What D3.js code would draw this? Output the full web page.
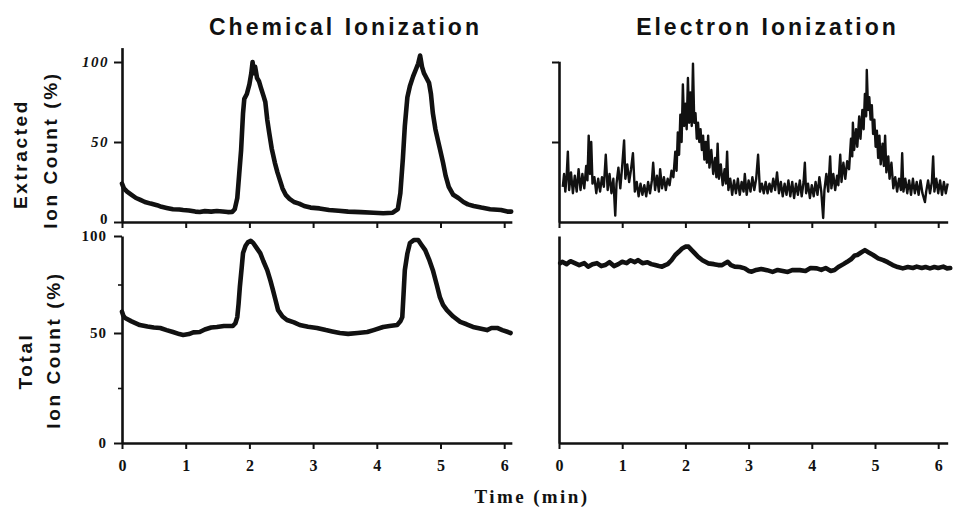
<!DOCTYPE html>
<html><head><meta charset="utf-8">
<script src="https://cdn.jsdelivr.net/npm/d3@7"></script>
<style>body{margin:0;background:#fff}</style>
</head><body>
<script>
// ---------- data ----------
const titles = ["Chemical Ionization", "Electron Ionization"];
const yLabelTop = ["Extracted", "Ion Count (%)"];
const yLabelBottom = ["Total", "Ion Count (%)"];
const xTitle = "Time (min)";
const xTicks = [0, 1, 2, 3, 4, 5, 6];
const yTicksTop = [0, 50, 100];
const yTicksBottom = [0, 50, 100];
const yMinorBottom = [25, 75];

// Chemical ionization, extracted ion count (%) : [time min, value]
const ciExtracted = [
 [0.00,24],[0.03,21],[0.08,19],[0.15,17],[0.22,15],[0.28,14],[0.36,12.5],[0.45,11.5],[0.55,10.5],[0.62,9.5],
 [0.70,8.8],[0.80,8],[0.90,7.8],[0.96,7.5],[1.05,7.2],[1.15,6.5],[1.22,6.3],[1.30,6.8],[1.40,6.5],[1.49,6.9],
 [1.58,6.6],[1.66,6.2],[1.73,6.3],[1.77,8],[1.81,15],[1.84,30],[1.87,45],[1.90,68],[1.92,77],[1.96,80],
 [2.00,86],[2.03,93],[2.05,100],[2.07,93],[2.09,97],[2.12,90],[2.15,88],[2.18,84],[2.22,79],[2.25,75],
 [2.28,64],[2.31,56],[2.35,46],[2.40,37],[2.44,31],[2.48,26],[2.52,21],[2.57,17],[2.63,14.5],[2.70,12.5],
 [2.78,11.5],[2.86,10],[2.96,9],[3.10,8.5],[3.25,7.5],[3.40,7],[3.55,6.5],[3.75,6.2],[3.95,5.8],[4.10,5.5],
 [4.25,5.8],[4.33,8],[4.37,18],[4.41,40],[4.44,60],[4.48,78],[4.52,85],[4.57,91],[4.61,95],[4.65,99],
 [4.68,104],[4.71,97],[4.74,93],[4.78,90],[4.82,87],[4.85,80],[4.88,68],[4.92,58],[4.96,51],[5.00,44],
 [5.04,37],[5.08,29],[5.13,22],[5.20,17],[5.28,15],[5.36,12.5],[5.43,11],[5.52,10],[5.64,9],[5.78,8],
 [5.95,7.5],[6.05,6.5],[6.11,6.5]
];

// Chemical ionization, total ion count (%)
const ciTotal = [
 [0.00,61],[0.02,59],[0.05,57.7],[0.15,56],[0.28,54.1],[0.40,53.3],[0.50,52.8],[0.60,52.6],[0.70,51.5],[0.80,50.5],
 [0.90,49.5],[0.96,49.1],[1.05,49.5],[1.12,50.3],[1.22,50.5],[1.30,51.8],[1.40,52.8],[1.49,53.1],[1.60,53.6],[1.74,53.6],
 [1.78,55],[1.81,58.2],[1.83,65],[1.85,73.7],[1.88,84],[1.90,91.2],[1.94,95],[1.98,96.9],[2.02,97.5],[2.06,96.4],
 [2.11,94],[2.17,91.2],[2.22,87],[2.28,82.4],[2.33,77],[2.37,72.1],[2.41,67],[2.45,61.8],[2.52,58.5],[2.59,56.7],
 [2.70,55.5],[2.79,54.1],[2.92,53.2],[3.06,52.6],[3.20,51.5],[3.30,50.8],[3.42,50],[3.55,49.6],[3.70,50],[3.85,50.5],
 [3.95,51.5],[4.10,53.1],[4.20,53.6],[4.32,54.1],[4.37,56],[4.40,58.2],[4.42,70],[4.44,82.4],[4.48,91],[4.52,96.4],
 [4.58,97.9],[4.65,97.9],[4.70,95.5],[4.76,92.7],[4.82,88],[4.88,82.4],[4.94,75],[4.99,68.5],[5.04,64.5],[5.10,61.8],
 [5.20,58.5],[5.31,55.7],[5.41,54.5],[5.51,53.1],[5.62,52.3],[5.73,51.5],[5.80,52.6],[5.89,52.6],[5.97,51.5],[6.06,50.5],
 [6.10,50]
];

// Electron ionization, extracted ion count (%) (noisy trace)
const eiExtracted = [
 [0.06,22],[0.08,30],[0.10,19],[0.12,28],[0.14,44],[0.16,20],[0.19,31],[0.22,18],[0.25,29],[0.28,19],
 [0.31,33],[0.34,20],[0.37,30],[0.40,21],[0.43,35],[0.45,26],[0.47,54],[0.49,30],[0.51,50],[0.53,24],
 [0.56,28],[0.59,18],[0.62,27],[0.65,19],[0.68,28],[0.71,22],[0.74,42],[0.77,20],[0.80,30],[0.83,18],
 [0.86,27],[0.89,4],[0.91,24],[0.94,34],[0.97,21],[1.00,35],[1.03,51],[1.05,27],[1.08,36],[1.11,25],
 [1.14,33],[1.17,43],[1.20,19],[1.23,25],[1.26,16],[1.29,24],[1.32,17],[1.35,23],[1.38,16],[1.41,25],
 [1.44,18],[1.47,26],[1.49,37],[1.52,20],[1.55,29],[1.58,19],[1.60,33],[1.63,21],[1.66,28],[1.69,20],
 [1.72,27],[1.75,23],[1.78,32],[1.81,28],[1.84,44],[1.86,32],[1.88,56],[1.90,42],[1.92,67],[1.94,50],
 [1.96,86],[1.98,60],[2.00,74],[2.02,58],[2.04,90],[2.06,62],[2.08,81],[2.10,60],[2.12,99],[2.14,62],
 [2.16,68],[2.18,52],[2.20,62],[2.22,50],[2.24,58],[2.26,45],[2.28,54],[2.30,39],[2.32,50],[2.34,37],
 [2.36,54],[2.38,34],[2.41,45],[2.44,30],[2.47,40],[2.49,28],[2.51,49],[2.53,27],[2.56,36],[2.59,23],
 [2.62,33],[2.64,24],[2.66,44],[2.68,20],[2.71,27],[2.74,17],[2.77,26],[2.80,18],[2.83,27],[2.86,17],
 [2.89,25],[2.92,19],[2.94,30],[2.97,17],[3.00,26],[3.03,19],[3.06,28],[3.09,20],[3.12,27],[3.15,42],
 [3.18,19],[3.21,24],[3.24,18],[3.27,25],[3.30,18],[3.33,24],[3.36,19],[3.39,27],[3.42,20],[3.45,31],
 [3.48,18],[3.51,25],[3.54,16],[3.57,24],[3.60,17],[3.63,26],[3.66,16],[3.69,25],[3.72,15],[3.75,24],
 [3.78,17],[3.81,26],[3.84,16],[3.87,25],[3.89,37],[3.91,18],[3.94,24],[3.97,15],[4.00,23],[4.03,16],
 [4.06,25],[4.09,17],[4.12,28],[4.15,19],[4.18,2.5],[4.20,20],[4.23,30],[4.26,19],[4.29,41],[4.31,21],
 [4.34,30],[4.37,20],[4.40,29],[4.42,23],[4.45,42],[4.47,25],[4.50,37],[4.53,27],[4.56,38],[4.59,33],
 [4.62,52],[4.64,41],[4.65,62],[4.67,45],[4.70,58],[4.72,47],[4.75,66],[4.77,52],[4.80,70],[4.82,58],
 [4.84,80],[4.86,66],[4.87,95],[4.89,70],[4.91,78],[4.93,64],[4.95,73],[4.97,55],[4.99,64],[5.01,47],
 [5.03,57],[5.05,40],[5.07,54],[5.09,36],[5.12,49],[5.14,35],[5.16,54],[5.18,31],[5.21,41],[5.23,27],
 [5.26,37],[5.29,21],[5.32,28],[5.35,19],[5.38,27],[5.41,20],[5.43,43],[5.45,19],[5.48,27],[5.51,18],
 [5.54,26],[5.57,17],[5.60,27],[5.63,18],[5.66,25],[5.69,17],[5.72,26],[5.75,18],[5.79,12.5],[5.81,19],
 [5.84,26],[5.87,18],[5.90,25],[5.92,41],[5.94,19],[5.97,27],[6.00,18],[6.03,26],[6.06,17],[6.09,25],
 [6.12,18],[6.15,24]
];

// Electron ionization, total ion count (%)
const eiTotal = [
 [0.02,86],[0.05,86.7],[0.12,85.5],[0.18,87],[0.25,86],[0.32,85],[0.40,86],[0.46,84.2],[0.53,85.5],[0.60,86],
 [0.67,84.5],[0.73,85],[0.80,86.5],[0.87,84.5],[0.94,85.5],[1.00,86.7],[1.07,86],[1.13,87.5],[1.20,86.5],[1.25,87.6],
 [1.32,86],[1.40,86.5],[1.46,85.5],[1.52,85],[1.58,84.5],[1.63,84.2],[1.68,85],[1.72,85.5],[1.78,87.5],[1.84,90.2],
 [1.90,92],[1.95,93.6],[2.00,94.5],[2.05,94.5],[2.10,92.7],[2.15,91],[2.20,89.3],[2.27,87.5],[2.36,85.9],[2.45,85.5],
 [2.52,85],[2.58,85],[2.63,86],[2.67,86.7],[2.72,85],[2.78,84.2],[2.86,84],[2.94,83.3],[3.00,82],[3.05,81.6],
 [3.12,82.5],[3.20,83],[3.29,82.4],[3.38,81.5],[3.46,82.5],[3.54,82],[3.62,81.5],[3.70,82.5],[3.81,82.4],[3.90,82],
 [3.98,83.5],[4.08,83.3],[4.15,82.5],[4.22,83.5],[4.30,82],[4.36,82.5],[4.42,84],[4.50,85.5],[4.56,86.7],[4.62,88],
 [4.68,90],[4.72,90.2],[4.78,91.5],[4.84,92.7],[4.90,91.5],[4.97,90.2],[5.05,88.5],[5.13,87.6],[5.20,86.5],[5.28,85],
 [5.36,84],[5.44,83.3],[5.52,84],[5.60,83.5],[5.66,84.2],[5.74,83.5],[5.80,84],[5.87,83.3],[5.94,84],[6.00,83.5],
 [6.08,84.2],[6.14,83.3],[6.19,83.5]
];

// ---------- drawing ----------
const W = 953, H = 514;
const svg = d3.select("body").append("svg").attr("width", W).attr("height", H)
  .style("background", "#fff");

const ink = "#111";
const sans = "'Liberation Sans', Arial, sans-serif";
const serif = "'Liberation Serif', 'Times New Roman', serif";

const xL = d3.scaleLinear().domain([0, 6.12]).range([122, 122 + 6.12 * 63.7]);
const xR = d3.scaleLinear().domain([0, 6.15]).range([559, 559 + 6.15 * 63.2]);
const yTop = d3.scaleLinear().domain([0, 109]).range([222, 222 - 109 * 1.6]);
const yTopR = d3.scaleLinear().domain([0, 100.5]).range([222, 222 - 100.5 * 1.6]);
const yBot = d3.scaleLinear().domain([0, 50, 100]).range([443, 333, 236]);

function styleAxis(g, fontStyle) {
  g.select(".domain").attr("stroke", ink).attr("stroke-width", 2.6);
  g.selectAll(".tick line").attr("stroke", ink).attr("stroke-width", 2);
  g.selectAll(".tick text").attr("fill", ink)
    .style("font-family", serif).style("font-weight", "bold")
    .style("font-size", "15px").style("font-style", fontStyle || "normal");
}

// x axes (top panels: ticks only; bottom panels: labels)
[[xL, 222, false], [xR, 222, false], [xL, 443, true], [xR, 443, true]].forEach(([x, y, lab]) => {
  const ax = d3.axisBottom(x).tickValues(xTicks).tickSize(6).tickSizeOuter(0).tickPadding(11)
    .tickFormat(lab ? d3.format("d") : "");
  const g = svg.append("g").attr("transform", `translate(0,${y})`).call(ax);
  styleAxis(g);
  g.selectAll(".tick text").style("font-size", "16px");
});

// y axes
const gTL = svg.append("g").attr("transform", `translate(${xL(0)},0)`)
  .call(d3.axisLeft(yTop).tickValues(yTicksTop).tickSize(8).tickSizeOuter(0).tickPadding(5)
    .tickFormat(d3.format("d")));
styleAxis(gTL, "italic");
gTL.selectAll(".tick text").style("letter-spacing", "1.5px")
  .filter(d => d === 0).style("font-style", "normal").attr("dy", "0.1em");

const gBL = svg.append("g").attr("transform", `translate(${xL(0)},0)`)
  .call(d3.axisLeft(yBot).tickValues(yTicksBottom).tickSize(8).tickSizeOuter(0).tickPadding(7)
    .tickFormat(d3.format("d")));
styleAxis(gBL);
gBL.selectAll(".tick text").style("letter-spacing", "1px");
svg.append("g").attr("transform", `translate(${xL(0)},0)`)
  .call(d3.axisLeft(yBot).tickValues(yMinorBottom).tickSize(4).tickFormat(""))
  .call(g => { g.select(".domain").remove(); g.selectAll(".tick line").attr("stroke", ink).attr("stroke-width", 1.6); });

const gTR = svg.append("g").attr("transform", `translate(${xR(0)},0)`)
  .call(d3.axisLeft(yTopR).tickValues([50, 100]).tickSize(7).tickSizeOuter(0).tickFormat(""));
styleAxis(gTR);

const gBR = svg.append("g").attr("transform", `translate(${xR(0)},0)`)
  .call(d3.axisLeft(yBot).tickValues([]).tickSizeOuter(0));
styleAxis(gBR);

// traces
const lineOf = (x, y) => d3.line().x(d => x(d[0])).y(d => y(d[1]));
svg.append("path").datum(ciExtracted).attr("d", lineOf(xL, yTop))
  .attr("fill", "none").attr("stroke", ink).attr("stroke-width", 4.6)
  .attr("stroke-linejoin", "round").attr("stroke-linecap", "round");
svg.append("path").datum(ciTotal).attr("d", lineOf(xL, yBot))
  .attr("fill", "none").attr("stroke", ink).attr("stroke-width", 4.6)
  .attr("stroke-linejoin", "round").attr("stroke-linecap", "round");
svg.append("path").datum(eiExtracted).attr("d", lineOf(xR, yTop))
  .attr("fill", "none").attr("stroke", ink).attr("stroke-width", 2.4)
  .attr("stroke-linejoin", "round");
svg.append("path").datum(eiTotal).attr("d", lineOf(xR, yBot))
  .attr("fill", "none").attr("stroke", ink).attr("stroke-width", 4.6)
  .attr("stroke-linejoin", "round").attr("stroke-linecap", "round");

// titles
const titleX = [344, 766];
titles.forEach((t, i) => {
  svg.append("text").text(t).attr("x", titleX[i] + 1.5).attr("y", 35)
    .attr("text-anchor", "middle").attr("fill", ink)
    .style("font-family", sans).style("font-weight", "bold")
    .style("font-size", "23px").style("letter-spacing", "3px");
});

// y labels (rotated)
function yLabel(txt, x, y) {
  svg.append("text").text(txt)
    .attr("transform", `translate(${x},${y}) rotate(-90)`)
    .attr("text-anchor", "middle").attr("fill", ink)
    .style("font-family", sans).style("font-weight", "bold")
    .style("font-size", "19px").style("letter-spacing", "2.6px");
}
yLabel(yLabelTop[0], 27, 154);
yLabel(yLabelTop[1], 57, 150);
yLabel(yLabelBottom[0], 32, 361);
yLabel(yLabelBottom[1], 60, 350);

// x title
svg.append("text").text(xTitle).attr("x", 532).attr("y", 503)
  .attr("text-anchor", "middle").attr("fill", ink)
  .style("font-family", serif).style("font-weight", "bold")
  .style("font-size", "19px").style("letter-spacing", "2.4px");
</script>
</body></html>
